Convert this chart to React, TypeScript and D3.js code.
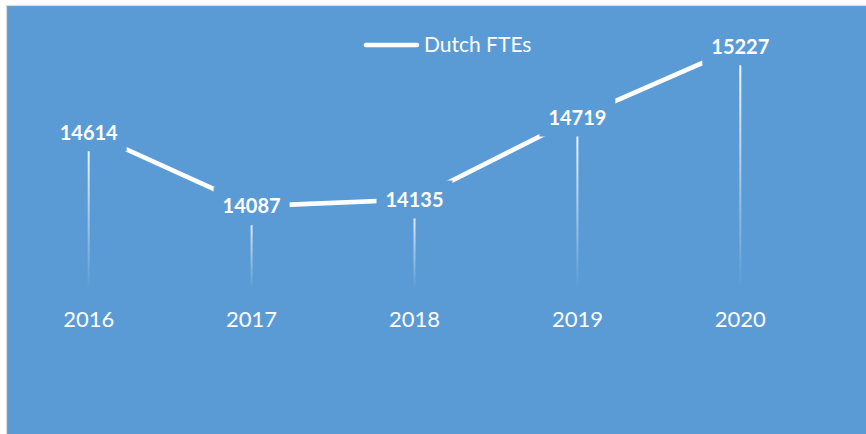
import React from "react";
import * as d3 from "d3";

const years = ["2016", "2017", "2018", "2019", "2020"];
const fteValues = [14614, 14087, 14135, 14719, 15227];
const seriesName = "Dutch FTEs";

const W = 866;
const H = 434;
const BG = "#5B9BD5";

export default function App() {
  const x = d3.scalePoint<string>().domain(years).range([7.25, 821.75]).padding(0.5);
  const y = d3.scaleLinear().domain([13500, 15500]).range([288.5, 8]);
  const data = years.map((yr, i) => ({ yr, v: fteValues[i] }));
  const line = d3
    .line<{ yr: string; v: number }>()
    .x((d) => x(d.yr) as number)
    .y((d) => y(d.v));
  const axisY = y(13500);
  const boxW = 76;
  const boxH = 38;

  return (
    <svg
      width={W}
      height={H}
      style={{ position: "absolute", left: 0, top: 0, display: "block" }}
      fontFamily="Lato, 'Open Sans', sans-serif"
    >
      <defs>
        <linearGradient id="dropGrad" x1="0" y1="0" x2="0" y2="1">
          <stop offset="0%" stopColor="#ffffff" stopOpacity={1} />
          <stop offset="100%" stopColor="#ffffff" stopOpacity={0} />
        </linearGradient>
      </defs>
      <rect x={0} y={0} width={W} height={H} fill="#ffffff" />
      <rect x={6.5} y={5.5} width={W + 10} height={H + 10} fill={BG} stroke="#D9D9D9" strokeWidth={1.2} />

      {/* drop lines */}
      {data.map((d) => (
        <rect
          key={"drop" + d.yr}
          x={(x(d.yr) as number) - 1}
          y={y(d.v)}
          width={2}
          height={axisY - y(d.v)}
          fill="url(#dropGrad)"
        />
      ))}

      {/* series line */}
      <path d={line(data) || ""} fill="none" stroke="#ffffff" strokeWidth={4.6} />

      {/* data labels with background boxes */}
      {data.map((d) => (
        <g key={"lab" + d.yr}>
          <rect
            x={(x(d.yr) as number) - boxW / 2}
            y={y(d.v) - boxH / 2}
            width={boxW}
            height={boxH}
            fill={BG}
          />
          <text
            x={x(d.yr) as number}
            y={y(d.v) + 7.3}
            textAnchor="middle"
            fill="#ffffff"
            fontWeight="bold"
            fontSize={20}
          >
            {d.v}
          </text>
        </g>
      ))}

      {/* category labels */}
      {years.map((yr) => (
        <text
          key={"cat" + yr}
          x={x(yr) as number}
          y={326.7}
          textAnchor="middle"
          fill="#ffffff"
          fontSize={22}
        >
          {yr}
        </text>
      ))}

      {/* legend */}
      <line x1={366} x2={417} y1={45} y2={45} stroke="#ffffff" strokeWidth={4.6} strokeLinecap="round" />
      <text x={424} y={52} fill="#ffffff" fontSize={21}>
        {seriesName}
      </text>
    </svg>
  );
}
